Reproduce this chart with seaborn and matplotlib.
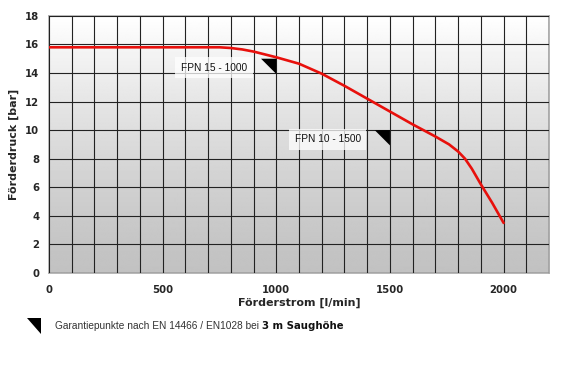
import numpy as np
import pandas as pd
import matplotlib
matplotlib.use("Agg")
import matplotlib.pyplot as plt
import seaborn as sns
from matplotlib.ticker import MultipleLocator

# pump curve
flow = [0, 750, 800, 850, 900, 950, 1000, 1100, 1200, 1300, 1400, 1500, 1600,
        1700, 1760, 1800, 1830, 1860, 1900, 1950, 2000]
pressure = [15.8, 15.8, 15.75, 15.65, 15.5, 15.3, 15.1, 14.65, 13.95, 13.1, 12.2,
            11.3, 10.4, 9.55, 9.0, 8.5, 8.0, 7.3, 6.2, 4.9, 3.5]

# guarantee points
gp_names = ["FPN 15 - 1000", "FPN 10 - 1500"]
gp_flow = [1000, 1500]
gp_pressure = [15, 10]

x_max, y_max = 2200, 18

sns.set_style("white")
plt.rcParams["font.family"] = ["DejaVu Sans"]

fig = plt.figure(figsize=(5.67, 3.78), dpi=100)
ax = fig.add_axes([0.0864, 0.278, 0.882, 0.680])

# background gradient
grad = np.linspace(1, 0, 256) ** 1.3
grad = 1 - 0.24 * (1 - grad)
ax.imshow(np.tile(grad[:, None], (1, 2)), cmap="gray", vmin=0, vmax=1,
          extent=[0, x_max, 0, y_max], aspect="auto", zorder=0)

df = pd.DataFrame({"flow": flow, "pressure": pressure})
sns.lineplot(data=df, x="flow", y="pressure", color="#e8100c", linewidth=1.9,
             ax=ax, zorder=3)

tri = [(-1, 0), (0, 0), (0, -1), (-1, 0)]
gp = pd.DataFrame({"flow": gp_flow, "pressure": gp_pressure})
sns.scatterplot(data=gp, x="flow", y="pressure", marker=tri, s=22 ** 2,
                color="black", edgecolor="none", linewidth=0, ax=ax, zorder=4)
for name, fx, fy in zip(gp_names, gp_flow, gp_pressure):
    ax.annotate(name, xy=(fx, fy), xytext=(-21, -6.5), textcoords="offset points",
                ha="right", va="center", fontsize=7.3, color="#111111",
                family="Liberation Sans", zorder=5,
                bbox=dict(boxstyle="square,pad=0.55", fc="white", ec="none", alpha=0.75))

ax.set_xlim(0, x_max)
ax.set_ylim(0, y_max)
ax.xaxis.set_major_locator(MultipleLocator(500))
ax.xaxis.set_minor_locator(MultipleLocator(100))
ax.yaxis.set_major_locator(MultipleLocator(2))
ax.grid(which="both", color="#222222", linewidth=0.8, zorder=1)
ax.set_axisbelow(False)
for l in ax.get_xgridlines() + ax.get_ygridlines():
    l.set_zorder(1)
for s in ax.spines.values():
    s.set_color("#aaaaaa")
    s.set_linewidth(1.2)

ax.set_xticks([0, 500, 1000, 1500, 2000])
ax.tick_params(axis="both", which="major", length=4, width=0.8, color="#777777",
               labelsize=7.3, pad=3)
ax.tick_params(axis="x", which="minor", length=0)
for lab in ax.get_xticklabels() + ax.get_yticklabels():
    lab.set_fontweight("bold")
ax.tick_params(axis="x", which="major", pad=5)

ax.set_xlabel("Förderstrom [l/min]", fontsize=8, fontweight="bold", labelpad=2)
ax.set_ylabel("Förderdruck [bar]", fontsize=8, fontweight="bold", labelpad=4)

# legend line below the chart
fig.patches.append(plt.Polygon([(27 / 567, 1 - 318 / 378), (41 / 567, 1 - 318 / 378),
                                (41 / 567, 1 - 334 / 378)], closed=True,
                               transform=fig.transFigure, fc="black", ec="none"))
t1 = fig.text(55 / 567, 1 - 326 / 378, "Garantiepunkte nach EN 14466 / EN1028 bei ",
              fontsize=7.3, family="Liberation Sans", color="#333333", va="center")
fig.canvas.draw()
ax.annotate("3 m Saughöhe", xy=(1, 0.5), xycoords=t1, va="center", ha="left",
            fontsize=7.3, fontweight="bold", color="#111111", annotation_clip=False)

fig.savefig("out.png", dpi=100)
